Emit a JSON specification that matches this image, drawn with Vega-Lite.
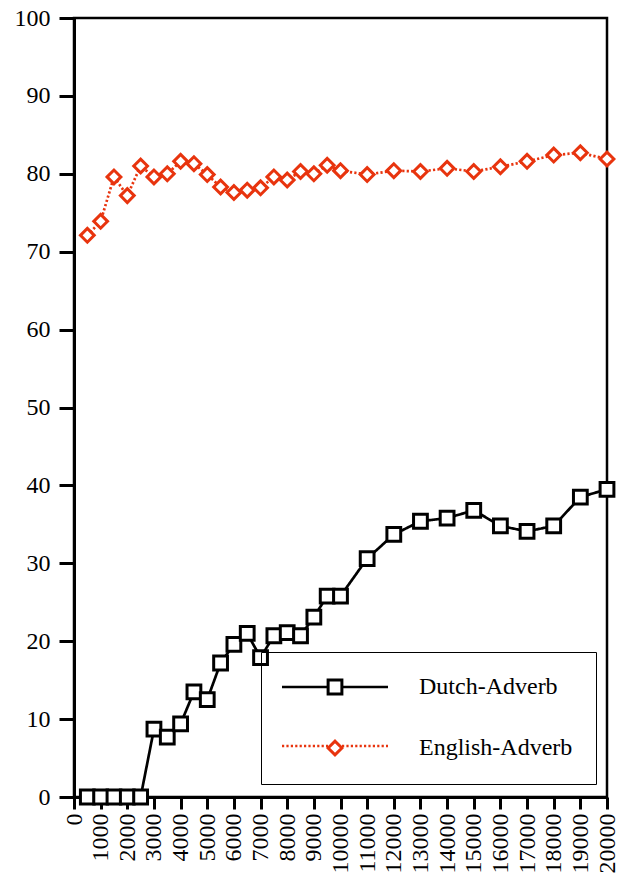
{
  "$schema": "https://vega.github.io/schema/vega-lite/v6.json",
  "width": 533,
  "height": 779,
  "autosize": {"type": "none"},
  "padding": {"left": 74, "top": 18, "right": 20, "bottom": 91},
  "background": "white",
  "config": {
    "font": "Liberation Serif",
    "view": {"stroke": "black", "strokeWidth": 2.5},
    "axis": {
      "labelFont": "Liberation Serif",
      "labelFontSize": 24,
      "labelColor": "black",
      "domainColor": "black",
      "domainWidth": 3,
      "tickColor": "black",
      "tickWidth": 3,
      "grid": false,
      "title": null
    }
  },
  "resolve": {"legend": {"stroke": "independent", "strokeDash": "independent", "shape": "independent"}},
  "data": {
    "values": [
      {"x": 500, "y": 0, "series": "Dutch-Adverb"},
      {"x": 1000, "y": 0, "series": "Dutch-Adverb"},
      {"x": 1500, "y": 0, "series": "Dutch-Adverb"},
      {"x": 2000, "y": 0, "series": "Dutch-Adverb"},
      {"x": 2500, "y": 0, "series": "Dutch-Adverb"},
      {"x": 3000, "y": 8.7, "series": "Dutch-Adverb"},
      {"x": 3500, "y": 7.7, "series": "Dutch-Adverb"},
      {"x": 4000, "y": 9.4, "series": "Dutch-Adverb"},
      {"x": 4500, "y": 13.5, "series": "Dutch-Adverb"},
      {"x": 5000, "y": 12.5, "series": "Dutch-Adverb"},
      {"x": 5500, "y": 17.2, "series": "Dutch-Adverb"},
      {"x": 6000, "y": 19.6, "series": "Dutch-Adverb"},
      {"x": 6500, "y": 21.0, "series": "Dutch-Adverb"},
      {"x": 7000, "y": 17.9, "series": "Dutch-Adverb"},
      {"x": 7500, "y": 20.7, "series": "Dutch-Adverb"},
      {"x": 8000, "y": 21.1, "series": "Dutch-Adverb"},
      {"x": 8500, "y": 20.7, "series": "Dutch-Adverb"},
      {"x": 9000, "y": 23.1, "series": "Dutch-Adverb"},
      {"x": 9500, "y": 25.8, "series": "Dutch-Adverb"},
      {"x": 10000, "y": 25.8, "series": "Dutch-Adverb"},
      {"x": 11000, "y": 30.6, "series": "Dutch-Adverb"},
      {"x": 12000, "y": 33.7, "series": "Dutch-Adverb"},
      {"x": 13000, "y": 35.4, "series": "Dutch-Adverb"},
      {"x": 14000, "y": 35.8, "series": "Dutch-Adverb"},
      {"x": 15000, "y": 36.8, "series": "Dutch-Adverb"},
      {"x": 16000, "y": 34.8, "series": "Dutch-Adverb"},
      {"x": 17000, "y": 34.1, "series": "Dutch-Adverb"},
      {"x": 18000, "y": 34.8, "series": "Dutch-Adverb"},
      {"x": 19000, "y": 38.5, "series": "Dutch-Adverb"},
      {"x": 20000, "y": 39.5, "series": "Dutch-Adverb"},
      {"x": 500, "y": 72.1, "series": "English-Adverb"},
      {"x": 1000, "y": 73.9, "series": "English-Adverb"},
      {"x": 1500, "y": 79.6, "series": "English-Adverb"},
      {"x": 2000, "y": 77.2, "series": "English-Adverb"},
      {"x": 2500, "y": 81.0, "series": "English-Adverb"},
      {"x": 3000, "y": 79.6, "series": "English-Adverb"},
      {"x": 3500, "y": 80.0, "series": "English-Adverb"},
      {"x": 4000, "y": 81.6, "series": "English-Adverb"},
      {"x": 4500, "y": 81.3, "series": "English-Adverb"},
      {"x": 5000, "y": 79.9, "series": "English-Adverb"},
      {"x": 5500, "y": 78.3, "series": "English-Adverb"},
      {"x": 6000, "y": 77.6, "series": "English-Adverb"},
      {"x": 6500, "y": 77.9, "series": "English-Adverb"},
      {"x": 7000, "y": 78.2, "series": "English-Adverb"},
      {"x": 7500, "y": 79.6, "series": "English-Adverb"},
      {"x": 8000, "y": 79.2, "series": "English-Adverb"},
      {"x": 8500, "y": 80.3, "series": "English-Adverb"},
      {"x": 9000, "y": 80.0, "series": "English-Adverb"},
      {"x": 9500, "y": 81.1, "series": "English-Adverb"},
      {"x": 10000, "y": 80.4, "series": "English-Adverb"},
      {"x": 11000, "y": 79.9, "series": "English-Adverb"},
      {"x": 12000, "y": 80.4, "series": "English-Adverb"},
      {"x": 13000, "y": 80.3, "series": "English-Adverb"},
      {"x": 14000, "y": 80.7, "series": "English-Adverb"},
      {"x": 15000, "y": 80.3, "series": "English-Adverb"},
      {"x": 16000, "y": 80.9, "series": "English-Adverb"},
      {"x": 17000, "y": 81.6, "series": "English-Adverb"},
      {"x": 18000, "y": 82.4, "series": "English-Adverb"},
      {"x": 19000, "y": 82.7, "series": "English-Adverb"},
      {"x": 20000, "y": 81.9, "series": "English-Adverb"}
    ]
  },
  "encoding": {
    "x": {
      "field": "x",
      "type": "quantitative",
      "scale": {"domain": [0, 20000], "nice": false, "zero": false},
      "axis": {
        "values": [0, 1000, 2000, 3000, 4000, 5000, 6000, 7000, 8000, 9000, 10000, 11000, 12000, 13000, 14000, 15000, 16000, 17000, 18000, 19000, 20000],
        "format": "d",
        "labelAngle": 270,
        "labelAlign": "right",
        "labelBaseline": "middle",
        "tickSize": 12,
        "labelPadding": 4,
        "labelOverlap": false,
        "labelFlush": false
      }
    },
    "y": {
      "field": "y",
      "type": "quantitative",
      "scale": {"domain": [0, 100], "nice": false},
      "axis": {
        "values": [0, 10, 20, 30, 40, 50, 60, 70, 80, 90, 100],
        "tickSize": 15,
        "labelPadding": 9,
        "labelOverlap": false,
        "labelFlush": false
      }
    }
  },
  "layer": [
    {
      "mark": {"type": "line", "strokeWidth": 2.7},
      "encoding": {
        "stroke": {
          "field": "series",
          "type": "nominal",
          "scale": {"domain": ["Dutch-Adverb", "English-Adverb"], "range": ["#000000", "#E8340E"]},
          "legend": {
            "title": null,
            "orient": "none",
            "legendX": 187,
            "legendY": 634,
            "padding": 23,
            "rowPadding": 35,
            "symbolType": "M-5.3,0H-0.7M0.7,0H5.3",
            "symbolSize": 400,
            "symbolStrokeWidth": 2.7,
            "symbolOffset": 39,
            "labelOffset": 72,
            "labelFont": "Liberation Serif",
            "labelFontSize": 24,
            "labelColor": "transparent",
            "labelExpr": "' '",
            "labelLimit": 400
          }
        },
        "strokeDash": {
          "field": "series",
          "type": "nominal",
          "scale": {"domain": ["Dutch-Adverb", "English-Adverb"], "range": [[1, 0], [2.2, 2.2]]},
          "legend": {"title": null}
        }
      }
    },
    {
      "mark": {"type": "point", "fill": "white", "fillOpacity": 1, "opacity": 1, "strokeWidth": 3, "size": 190},
      "encoding": {
        "stroke": {
          "field": "series",
          "type": "nominal",
          "scale": {"domain": ["Dutch-Adverb", "English-Adverb"], "range": ["#000000", "#E8340E"]},
          "legend": {
            "title": null,
            "orient": "none",
            "legendX": 187,
            "legendY": 634,
            "strokeColor": "black",
            "padding": 23,
            "rowPadding": 35,
            "symbolSize": 190,
            "symbolStrokeWidth": 3,
            "symbolOffset": 39,
            "labelOffset": 72,
            "labelFont": "Liberation Serif",
            "labelFontSize": 24,
            "labelColor": "black",
            "labelLimit": 400
          }
        },
        "shape": {
          "field": "series",
          "type": "nominal",
          "scale": {"domain": ["Dutch-Adverb", "English-Adverb"], "range": ["square", "diamond"]},
          "legend": {"title": null}
        }
      }
    }
  ]
}
